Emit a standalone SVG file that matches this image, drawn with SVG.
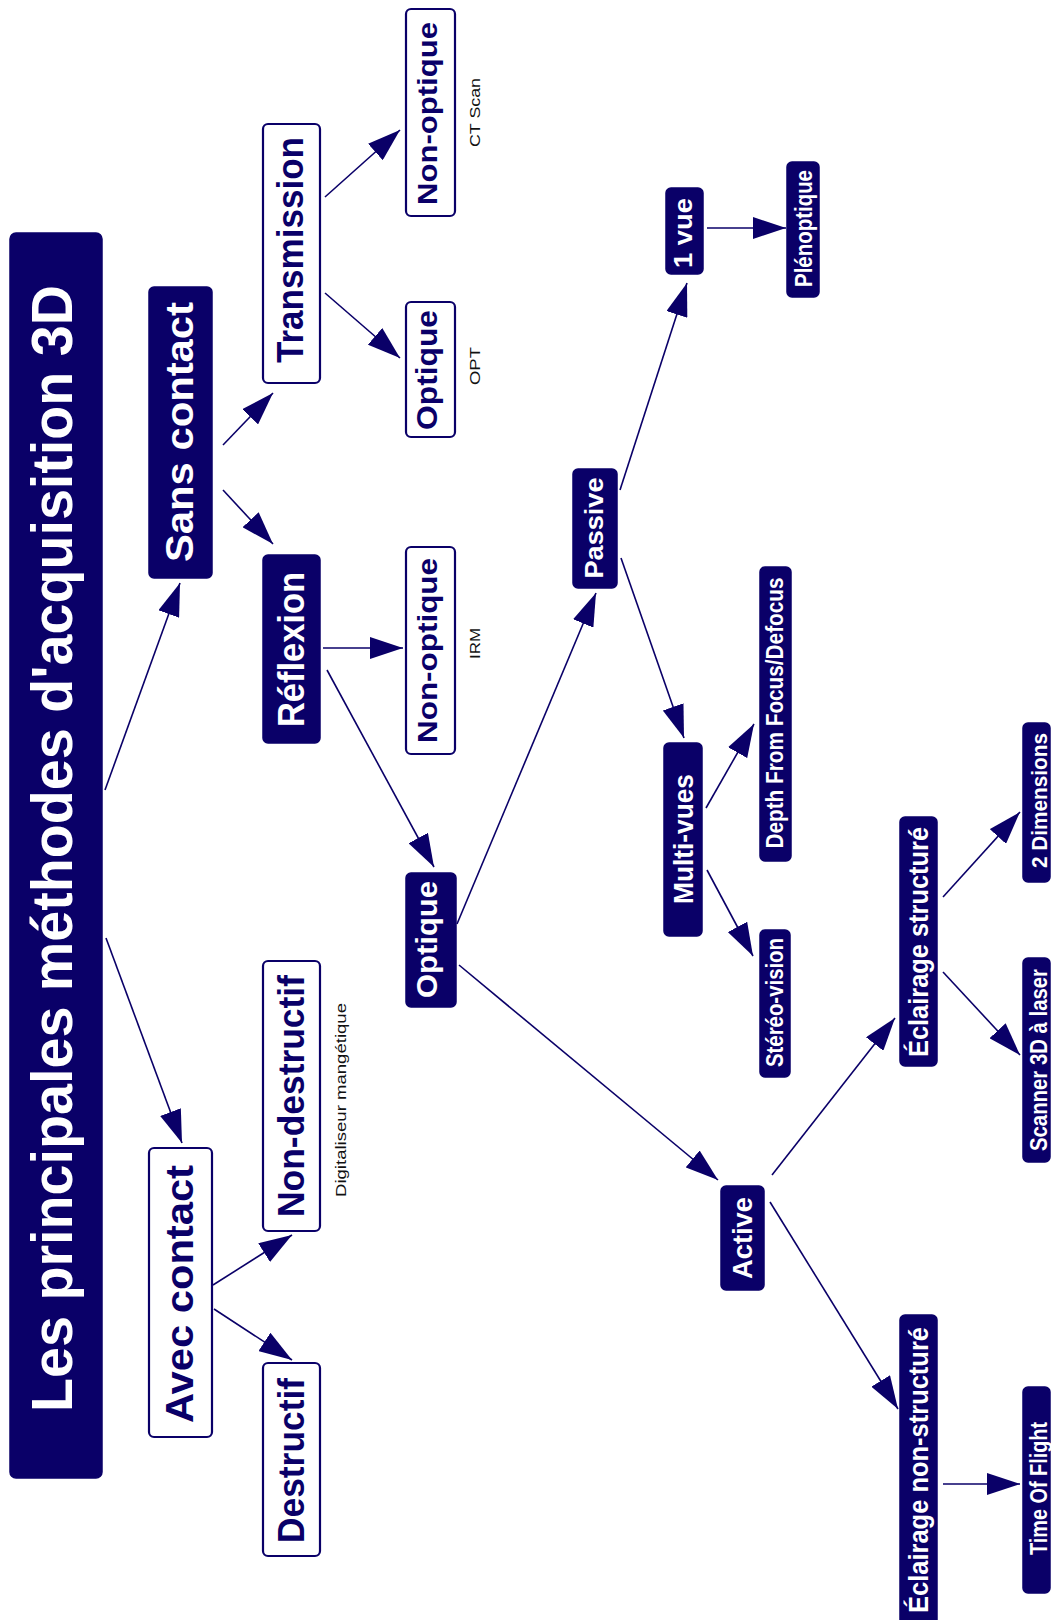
<svg xmlns="http://www.w3.org/2000/svg" width="1051" height="1620" viewBox="0 0 1051 1620">
<defs>
<style>
.f{fill:#0a0068;stroke:#0a0068;stroke-width:1.5}
.o{fill:#fff;stroke:#0a0068;stroke-width:2.2}
.t{font-family:"Liberation Sans",Arial,sans-serif;font-weight:bold;text-anchor:middle}
.tw{fill:#fff}
.tn{fill:#0a0068}
.s{font-family:"Liberation Sans",Arial,sans-serif;font-size:15px;fill:#111;text-anchor:middle}
.c line{stroke:#0a0068;stroke-width:1.6;marker-end:url(#ah)}
</style>
<marker id="ah" markerUnits="userSpaceOnUse" markerWidth="33" markerHeight="22" refX="33" refY="11" orient="auto">
<path d="M0,0 L33,11 L0,22 Z" fill="#0a0068"/>
</marker>
</defs>
<rect width="1051" height="1620" fill="#fff"/>

<g id="connectors" class="c">
<line x1="105" y1="790" x2="180" y2="583"/>
<line x1="106" y1="938" x2="182" y2="1143"/>
<line x1="223" y1="445" x2="273" y2="393"/>
<line x1="223" y1="490" x2="273" y2="544"/>
<line x1="213" y1="1285" x2="292" y2="1235"/>
<line x1="214" y1="1309" x2="292" y2="1360"/>
<line x1="325" y1="197" x2="400" y2="130"/>
<line x1="325" y1="293" x2="400" y2="358"/>
<line x1="323" y1="648" x2="403" y2="648"/>
<line x1="327" y1="670" x2="434" y2="867"/>
<line x1="457" y1="924" x2="596" y2="593"/>
<line x1="459" y1="965" x2="718" y2="1180"/>
<line x1="620" y1="490" x2="687" y2="283"/>
<line x1="621" y1="558" x2="684" y2="738"/>
<line x1="707" y1="228" x2="786" y2="228"/>
<line x1="706" y1="808" x2="754" y2="724"/>
<line x1="707" y1="870" x2="753" y2="956"/>
<line x1="772" y1="1175" x2="895" y2="1018"/>
<line x1="770" y1="1202" x2="898" y2="1409"/>
<line x1="943" y1="897" x2="1020" y2="812"/>
<line x1="943" y1="972" x2="1020" y2="1055"/>
<line x1="943" y1="1484" x2="1020" y2="1484"/>
</g>

<g id="title">
<rect class="f" x="10" y="233" width="92" height="1245" rx="6"/>
<text class="t tw" font-size="57" textLength="1127" lengthAdjust="spacingAndGlyphs" transform="translate(72,848.5) rotate(-90)">Les principales méthodes d'acquisition 3D</text>
</g>

<g id="sans-contact">
<rect class="f" x="149" y="287" width="63" height="291" rx="5"/>
<text class="t tw" font-size="39" textLength="260" lengthAdjust="spacingAndGlyphs" transform="translate(193,432) rotate(-90)">Sans contact</text>
</g>

<g id="avec-contact">
<rect class="o" x="149" y="1148" width="63" height="289" rx="5"/>
<text class="t tn" font-size="39" textLength="258" lengthAdjust="spacingAndGlyphs" transform="translate(193,1294) rotate(-90)">Avec contact</text>
</g>

<g id="transmission">
<rect class="o" x="263" y="124" width="57" height="259" rx="5"/>
<text class="t tn" font-size="37" textLength="226" lengthAdjust="spacingAndGlyphs" transform="translate(303,250) rotate(-90)">Transmission</text>
</g>

<g id="reflexion">
<rect class="f" x="263" y="555" width="57" height="188" rx="5"/>
<text class="t tw" font-size="36" textLength="155" lengthAdjust="spacingAndGlyphs" transform="translate(304,649.5) rotate(-90)">Réflexion</text>
</g>

<g id="non-destructif">
<rect class="o" x="263" y="961" width="57" height="270" rx="5"/>
<text class="t tn" font-size="36" textLength="242" lengthAdjust="spacingAndGlyphs" transform="translate(304,1096) rotate(-90)">Non-destructif</text>
<text class="s" font-size="16" textLength="194" lengthAdjust="spacingAndGlyphs" transform="translate(346,1100) rotate(-90)">Digitaliseur mangétique</text>
</g>

<g id="destructif">
<rect class="o" x="263" y="1363" width="57" height="193" rx="5"/>
<text class="t tn" font-size="37" textLength="165" lengthAdjust="spacingAndGlyphs" transform="translate(304,1460.5) rotate(-90)">Destructif</text>
</g>

<g id="non-optique-transmission">
<rect class="o" x="406" y="9" width="49" height="207" rx="5"/>
<text class="t tn" font-size="28" textLength="183" lengthAdjust="spacingAndGlyphs" transform="translate(437,113.5) rotate(-90)">Non-optique</text>
<text class="s" textLength="69" lengthAdjust="spacingAndGlyphs" transform="translate(480,112.5) rotate(-90)">CT Scan</text>
</g>

<g id="optique-transmission">
<rect class="o" x="406" y="302" width="49" height="135" rx="5"/>
<text class="t tn" font-size="29" textLength="120" lengthAdjust="spacingAndGlyphs" transform="translate(437,370) rotate(-90)">Optique</text>
<text class="s" textLength="38" lengthAdjust="spacingAndGlyphs" transform="translate(480,366) rotate(-90)">OPT</text>
</g>

<g id="non-optique-reflexion">
<rect class="o" x="406" y="547" width="49" height="207" rx="5"/>
<text class="t tn" font-size="28" textLength="185" lengthAdjust="spacingAndGlyphs" transform="translate(437,650.5) rotate(-90)">Non-optique</text>
<text class="s" textLength="31" lengthAdjust="spacingAndGlyphs" transform="translate(480,643.5) rotate(-90)">IRM</text>
</g>

<g id="optique">
<rect class="f" x="406" y="873" width="50" height="134" rx="5"/>
<text class="t tw" font-size="29" textLength="117" lengthAdjust="spacingAndGlyphs" transform="translate(437,939.5) rotate(-90)">Optique</text>
</g>

<g id="passive">
<rect class="f" x="573" y="469" width="44" height="119" rx="5"/>
<text class="t tw" font-size="26" textLength="101" lengthAdjust="spacingAndGlyphs" transform="translate(603,528) rotate(-90)">Passive</text>
</g>

<g id="active">
<rect class="f" x="721" y="1186" width="43" height="104" rx="5"/>
<text class="t tw" font-size="27" textLength="82" lengthAdjust="spacingAndGlyphs" transform="translate(752,1238) rotate(-90)">Active</text>
</g>

<g id="un-vue">
<rect class="f" x="666" y="188" width="37" height="86" rx="5"/>
<text class="t tw" font-size="25" textLength="70" lengthAdjust="spacingAndGlyphs" transform="translate(692,233) rotate(-90)">1 vue</text>
</g>

<g id="plenoptique">
<rect class="f" x="787" y="162" width="32" height="135" rx="5"/>
<text class="t tw" font-size="23" textLength="117" lengthAdjust="spacingAndGlyphs" transform="translate(812,228.5) rotate(-90)">Plénoptique</text>
</g>

<g id="multi-vues">
<rect class="f" x="664" y="743" width="38" height="193" rx="5"/>
<text class="t tw" font-size="28" textLength="130" lengthAdjust="spacingAndGlyphs" transform="translate(693,839) rotate(-90)">Multi-vues</text>
</g>

<g id="depth-from-focus">
<rect class="f" x="760" y="567" width="31" height="294" rx="5"/>
<text class="t tw" font-size="23" textLength="271" lengthAdjust="spacingAndGlyphs" transform="translate(783,713) rotate(-90)">Depth From Focus/Defocus</text>
</g>

<g id="stereo-vision">
<rect class="f" x="760" y="930" width="30" height="147" rx="5"/>
<text class="t tw" font-size="23" textLength="129" lengthAdjust="spacingAndGlyphs" transform="translate(783,1002.5) rotate(-90)">Stéréo-vision</text>
</g>

<g id="eclairage-structure">
<rect class="f" x="900" y="817" width="37" height="249" rx="5"/>
<text class="t tw" font-size="27" textLength="230" lengthAdjust="spacingAndGlyphs" transform="translate(928,942) rotate(-90)">Éclairage structuré</text>
</g>

<g id="eclairage-non-structure">
<rect class="f" x="900" y="1315" width="37" height="312" rx="5"/>
<text class="t tw" font-size="27" textLength="286" lengthAdjust="spacingAndGlyphs" transform="translate(928,1470) rotate(-90)">Éclairage non-structuré</text>
</g>

<g id="deux-dimensions">
<rect class="f" x="1023" y="723" width="27" height="159" rx="5"/>
<text class="t tw" font-size="22" textLength="135" lengthAdjust="spacingAndGlyphs" transform="translate(1047,800.5) rotate(-90)">2 Dimensions</text>
</g>

<g id="scanner-3d">
<rect class="f" x="1023" y="958" width="27" height="204" rx="5"/>
<text class="t tw" font-size="23" textLength="182" lengthAdjust="spacingAndGlyphs" transform="translate(1047,1060) rotate(-90)">Scanner 3D à laser</text>
</g>

<g id="time-of-flight">
<rect class="f" x="1023" y="1387" width="27" height="206" rx="5"/>
<text class="t tw" font-size="23" textLength="133" lengthAdjust="spacingAndGlyphs" transform="translate(1047,1488.5) rotate(-90)">Time Of Flight</text>
</g>
</svg>
